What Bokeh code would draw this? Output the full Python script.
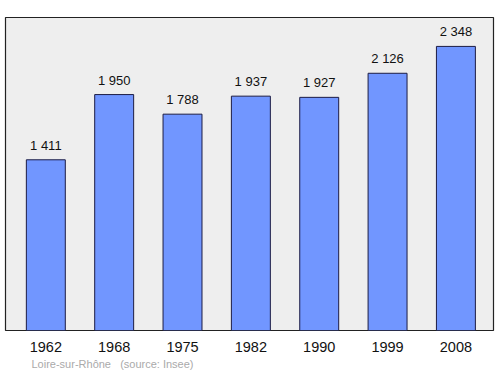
from bokeh.plotting import figure
from bokeh.models import ColumnDataSource, Range1d, FixedTicker, Title
from bokeh.embed import file_html
from bokeh.resources import INLINE

years = ["1962", "1968", "1975", "1982", "1990", "1999", "2008"]
population = [1411, 1950, 1788, 1937, 1927, 2126, 2348]
labels = ["1 411", "1 950", "1 788", "1 937", "1 927", "2 126", "2 348"]

xs = list(range(len(years)))
src = ColumnDataSource(dict(x=xs, top=population, lab=labels))

p = figure(width=500, height=374, output_backend="svg", toolbar_location=None,
           x_range=Range1d(-0.59, 6.55), y_range=Range1d(0, 2587),
           min_border_left=5, min_border_right=7, min_border_top=17, min_border_bottom=44)
p.background_fill_color = "#eeeeee"
p.border_fill_color = "white"
p.outline_line_color = "#222222"
p.outline_line_width = 1.2
p.grid.visible = False
p.yaxis.visible = False

p.vbar(x="x", top="top", width=0.57, source=src, fill_color="#7196ff",
       line_color="#1c1c44", line_width=1)
p.text(x="x", y="top", text="lab", source=src, y_offset=-7,
       text_align="center", text_baseline="bottom", text_font_size="13px",
       text_font={"value": "Liberation Sans"}, text_color="#111111")

ax = p.xaxis[0]
ax.ticker = FixedTicker(ticks=xs)
ax.major_label_overrides = {i: y for i, y in enumerate(years)}
ax.axis_line_color = None
ax.major_tick_line_color = None
ax.minor_tick_line_color = None
ax.major_tick_out = 0
ax.major_label_standoff = 11
ax.major_label_text_font = "Liberation Sans"
ax.major_label_text_font_size = "14.5px"
ax.major_label_text_color = "#111111"

p.add_layout(Title(text="Loire-sur-Rh\u00f4ne\u00a0\u00a0\u00a0(source: Insee)", align="left",
                   text_font="Liberation Sans", text_font_size="11px",
                   text_font_style="normal", text_color="#aaaaaa",
                   offset=26, standoff=2), "below")

open("out.html", "w").write(file_html(p, INLINE))
